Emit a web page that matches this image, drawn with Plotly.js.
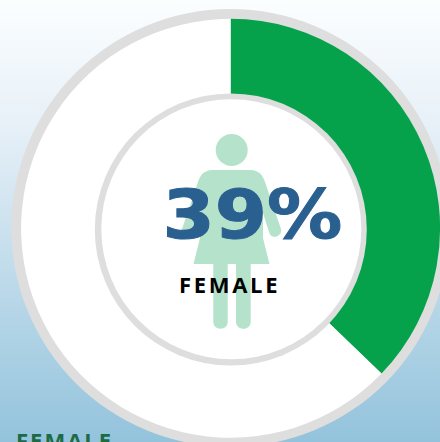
<!DOCTYPE html>
<html><head><meta charset="utf-8">
<script src="https://cdn.plot.ly/plotly-3.0.1.min.js"></script>
<style>
html,body{margin:0;padding:0;width:440px;height:442px;overflow:hidden;
background:linear-gradient(180deg,#fbfeff 0px,#e8f1f8 120px,#93c3dc 442px);}
#c{position:absolute;left:0;top:0;}
</style></head><body><div id="c"></div>
<script>
const categories = ['Female', 'Other'];
const shareDrawn = [37.2, 62.8];
const sliceColors = ['#05a24b', '#ffffff'];
const bigLabel = '39%';
const smallLabel = 'FEMALE';
const footerLabel = 'FEMALE';

const W = 462, H = 460;
function dom(cx, cy, r){ return {x:[(cx-r)/W,(cx+r)/W], y:[1-(cy+r)/H,1-(cy-r)/H]}; }
function disc(cx, cy, r, color){
  return {type:'pie', values:[1], labels:['ring'], domain:dom(cx,cy,r), sort:false,
    marker:{colors:[color], line:{width:0}}, textinfo:'none', hoverinfo:'skip', showlegend:false};
}
const traces = [
  disc(230.4, 228, 219, '#dedede'),
  {type:'pie', values:shareDrawn, labels:categories, domain:dom(230.6,228.3,209.5), sort:false,
   direction:'clockwise', rotation:0, marker:{colors:sliceColors, line:{width:0}},
   textinfo:'none', hoverinfo:'skip', showlegend:false},
  disc(230.8, 229.5, 136, '#dedede'),
  disc(231.3, 229.2, 130, '#ffffff')
];

const X = x => (x/W).toFixed(5), Y = y => (1-y/H).toFixed(5);
function pth(cmds){ return cmds.map(c => c[0] + (c.length>1 ? X(c[1])+','+Y(c[2]) : '') +
   (c.length>3 ? ' '+X(c[3])+','+Y(c[4]) : '') + (c.length>5 ? ' '+X(c[5])+','+Y(c[6]) : '')).join(' '); }
const iconC = '#b5e2cb';
const bodyPath = pth([
  ['M',212,170],['L',251,170],
  ['C',258,170,263,175,265,182],
  ['L',281,229],['C',283,236,271,241,269,232],
  ['L',263,213],['L',263,238],
  ['L',269.5,264],['L',193.5,264],
  ['L',200,238],['L',200,213],
  ['L',194,232],['C',192,241,180,236,182,229],
  ['L',198,182],
  ['C',200,175,205,170,212,170],['Z']
]);
function leg(x0,x1){
  const b=329, r=(x1-x0)/2;
  return pth([['M',x0,262],['L',x1,262],['L',x1,b-r],['C',x1,b+2,x0,b+2,x0,b-r],['Z']]);
}
const shapes = [
  {type:'circle', xref:'paper', yref:'paper', x0:215.7/W, x1:247.7/W, y0:1-166/H, y1:1-134/H, fillcolor:iconC, line:{width:0}},
  {type:'path', xref:'paper', yref:'paper', path:bodyPath, fillcolor:iconC, line:{width:0}},
  {type:'path', xref:'paper', yref:'paper', path:leg(213.3,227.7), fillcolor:iconC, line:{width:0}},
  {type:'path', xref:'paper', yref:'paper', path:leg(236,250.7), fillcolor:iconC, line:{width:0}}
];
const annotations = [
  {text:'<b>'+bigLabel+'</b>', xref:'paper', yref:'paper', x:252.5/W, y:1-214.5/H, xanchor:'center', yanchor:'middle', showarrow:false,
   font:{family:'DejaVu Sans', size:68, color:'#2a6090'}},
  {text:'<b>'+smallLabel+'</b>', xref:'paper', yref:'paper', x:229.5/W, y:1-283.5/H, xanchor:'center', yanchor:'middle', showarrow:false,
   font:{family:'Open Sans', size:22, color:'#000000'}},
  {text:'<b>'+footerLabel+'</b>', xref:'paper', yref:'paper', x:64.5/W, y:1-440/H, xanchor:'center', yanchor:'middle', showarrow:false,
   font:{family:'Open Sans', size:22, color:'#1c6b45'}}
];
Plotly.newPlot('c', traces, {
  width:W, height:H, margin:{l:0,r:0,t:0,b:0},
  paper_bgcolor:'rgba(0,0,0,0)', plot_bgcolor:'rgba(0,0,0,0)',
  showlegend:false, shapes:shapes, annotations:annotations
}, {displayModeBar:false, staticPlot:true}).then(()=>{
  const a=document.querySelectorAll('.annotation-text');
  if(a[0]){ a[0].setAttribute('textLength','180'); a[0].setAttribute('lengthAdjust','spacingAndGlyphs');
    a[0].style.stroke='#2a6090'; a[0].style.strokeWidth='1px'; }
  if(a[1]) a[1].style.letterSpacing='2.7px';
  if(a[2]) a[2].style.letterSpacing='2px';
});
</script></body></html>
